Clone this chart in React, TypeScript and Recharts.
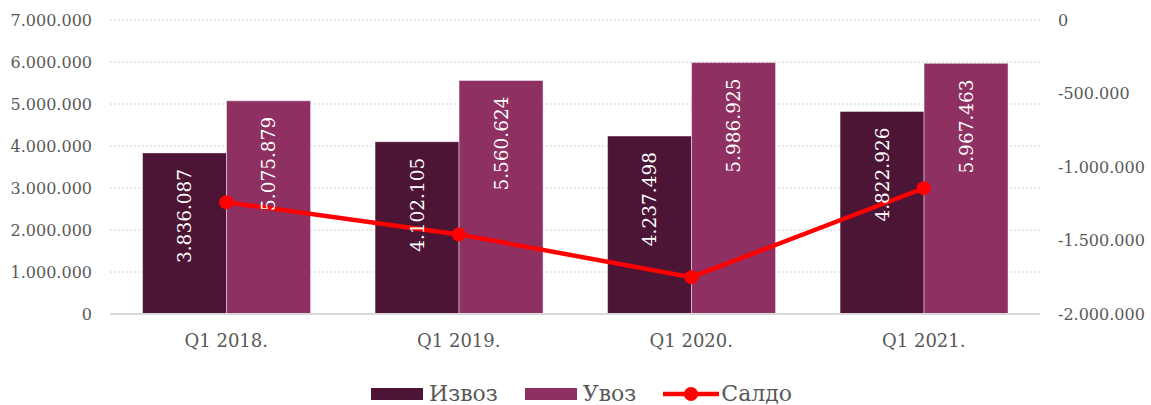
import {
  ComposedChart,
  Bar,
  Line,
  XAxis,
  YAxis,
  CartesianGrid,
  Legend,
} from "recharts";

const categories = ["Q1 2018.", "Q1 2019.", "Q1 2020.", "Q1 2021."];
const izvoz = [3836087, 4102105, 4237498, 4822926];
const uvoz = [5075879, 5560624, 5986925, 5967463];
const saldo = [-1239792, -1458519, -1749427, -1144537];
const leftTicks = [0, 1000000, 2000000, 3000000, 4000000, 5000000, 6000000, 7000000];
const rightTicks = [-2000000, -1500000, -1000000, -500000, 0];

const FONT = "DejaVu Serif";
const TEXT = "#595959";
const DARK = "#4d1535";
const LIGHT = "#8e3162";
const RED = "#ff0000";

const data = categories.map((name, i) => ({
  name,
  Извоз: izvoz[i],
  Увоз: uvoz[i],
  Салдо: saldo[i],
}));

// 1234567 -> 1.234.567
const fmt = (v: number) => {
  const s = Math.abs(Math.round(v)).toString().replace(/\B(?=(\d{3})+(?!\d))/g, ".");
  return v < 0 ? "-" + s : s;
};

const ValueLabel = (props: any) => {
  const { x, y, width, value } = props;
  const cx = x + width / 2;
  const ty = y + 16;
  return (
    <text
      x={cx}
      y={ty}
      dy="0.36em"
      transform={`rotate(-90, ${cx}, ${ty})`}
      textAnchor="end"
      fill="#ffffff"
      fontFamily={FONT}
      fontSize={18.5}
    >
      {fmt(value)}
    </text>
  );
};

const renderLegend = () => {
  const items = [
    { name: "Извоз", color: DARK, type: "bar" },
    { name: "Увоз", color: LIGHT, type: "bar" },
    { name: "Салдо", color: RED, type: "line" },
  ];
  return (
    <div
      style={{
        display: "flex",
        justifyContent: "center",
        alignItems: "center",
        gap: 27,
        paddingTop: 2,
        paddingLeft: 12,
      }}
    >
      {items.map((it) => (
        <div key={it.name} style={{ display: "flex", alignItems: "center" }}>
          {it.type === "bar" ? (
            <svg width={52} height={12} style={{ marginRight: 6 }}>
              <rect width={52} height={12} fill={it.color} />
            </svg>
          ) : (
            <svg width={56} height={16} style={{ marginRight: 2 }}>
              <line x1={0} y1={8} x2={56} y2={8} stroke={it.color} strokeWidth={4.5} />
              <circle cx={28} cy={8} r={7} fill={it.color} />
            </svg>
          )}
          <span style={{ fontFamily: FONT, fontSize: 22, color: TEXT }}>{it.name}</span>
        </div>
      ))}
    </div>
  );
};

export default function App() {
  return (
    <div style={{ position: "absolute", left: 0, top: 0, width: 1151, height: 405, fontFamily: FONT }}>
      <ComposedChart
        width={1151}
        height={405}
        data={data}
        margin={{ top: 20, right: 0, left: 0, bottom: 0 }}
        barCategoryGap="14%"
        barGap={0}
      >
        <CartesianGrid
          yAxisId="left"
          vertical={false}
          stroke="#d0d0d0"
          strokeDasharray="2 2"
        />
        <XAxis
          dataKey="name"
          height={65}
          tickSize={0}
          tickMargin={20}
          axisLine={{ stroke: "#d9d9d9", strokeWidth: 2 }}
          tickLine={false}
          tick={{ fill: TEXT, fontSize: 18, fontFamily: FONT }}
        />
        <YAxis
          yAxisId="left"
          width={110}
          domain={[0, 7000000]}
          ticks={leftTicks}
          tickFormatter={fmt}
          tickSize={0}
          tickMargin={18}
          axisLine={false}
          tickLine={false}
          tick={{ fill: TEXT, fontSize: 16, fontFamily: FONT }}
        />
        <YAxis
          yAxisId="right"
          orientation="right"
          width={111}
          domain={[-2000000, 0]}
          ticks={rightTicks}
          tickFormatter={fmt}
          tickSize={0}
          tickMargin={18}
          axisLine={false}
          tickLine={false}
          tick={{ fill: TEXT, fontSize: 16, fontFamily: FONT, textAnchor: "start" }}
        />
        <Legend verticalAlign="bottom" height={26} content={renderLegend} />
        <Bar
          yAxisId="left"
          dataKey="Извоз"
          fill={DARK}
          stroke="rgba(255,255,255,0.45)"
          strokeWidth={1}
          isAnimationActive={false}
          label={<ValueLabel />}
        />
        <Bar
          yAxisId="left"
          dataKey="Увоз"
          fill={LIGHT}
          stroke="rgba(255,255,255,0.45)"
          strokeWidth={1}
          isAnimationActive={false}
          label={<ValueLabel />}
        />
        <Line
          yAxisId="right"
          dataKey="Салдо"
          stroke={RED}
          strokeWidth={4.5}
          dot={{ r: 7, fill: RED, stroke: RED, strokeWidth: 0 }}
          activeDot={false}
          isAnimationActive={false}
        />
      </ComposedChart>
    </div>
  );
}
